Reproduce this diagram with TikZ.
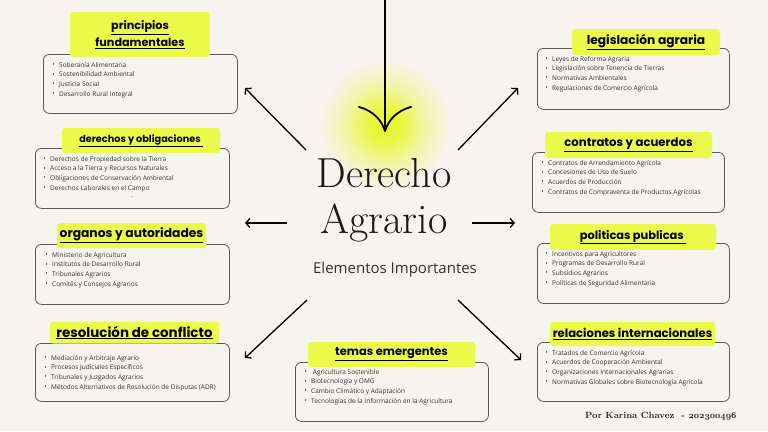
\documentclass[tikz,border=0pt]{standalone}
\usepackage{fontspec}
\newfontfamily\headfont{Poppins}
\newfontfamily\itemfont{Open Sans}
\usetikzlibrary{arrows.meta, positioning}
\definecolor{bgcol}{HTML}{F7F3EE}
\definecolor{hilite}{HTML}{ECFA4C}
\definecolor{glowcol}{HTML}{E9F73A}
\definecolor{boxline}{HTML}{5A5A5A}
\definecolor{itemtext}{HTML}{333333}
\pgfdeclareradialshading{glow}{\pgfpoint{0bp}{0bp}}{color(0bp)=(glowcol); color(3bp)=(glowcol); color(7.5bp)=(glowcol!40!bgcol); color(12.5bp)=(bgcol); color(25bp)=(bgcol)}
\newcommand{\itm}{\makebox[6.5pt][l]{\raisebox{0.2ex}{\scalebox{0.85}{\color{black}\textbullet}}}}
\newcommand{\osf}[1]{{\fontencoding{OML}\fontfamily{cmm}\fontseries{b}\fontshape{it}\selectfont #1}}

\begin{document}
\begin{tikzpicture}[x=1pt, y=-1pt,
        listbox/.style={draw=boxline, line width=0.8pt, rounded corners=6pt, anchor=north west, inner sep=0pt},
        tagbox/.style={fill=hilite, rounded corners=3pt, align=center, inner sep=0pt},
        itemlist/.style={anchor=north west, align=left, inner sep=0pt, text=itemtext, font=\itemfont\fontsize{6.5}{9.7}\selectfont},
        spoke/.style={-{Straight Barb[length=4pt, width=9pt]}, line width=1.3pt}]
        \useasboundingbox (0,0) rectangle (768,431);
        \fill[bgcol] (0,0) rectangle (768,431);
        \shade[shading=glow] (385,125) circle[radius=130pt];

        \coordinate (topS) at (385,-3);
        \coordinate (topE) at (385,132);
        \coordinate (ulS) at (306,150);
        \coordinate (ulE) at (245,88);
        \coordinate (urS) at (458,150);
        \coordinate (urE) at (518,88);
        \coordinate (lS) at (287,223);
        \coordinate (lE) at (245,223);
        \coordinate (rS) at (472,223);
        \coordinate (rE) at (515,223);
        \coordinate (dlS) at (307,300);
        \coordinate (dlE) at (245,358);
        \coordinate (drS) at (458,300);
        \coordinate (drE) at (521,360);

        \draw[line width=1.8pt, -{Computer Modern Rightarrow[length=26pt, width=54pt]}] (topS) -- (topE);
        \draw[spoke] (ulS) -- (ulE);
        \draw[spoke] (urS) -- (urE);
        \draw[spoke] (lS) -- (lE);
        \draw[spoke] (rS) -- (rE);
        \draw[spoke] (dlS) -- (dlE);
        \draw[spoke] (drS) -- (drE);

        \node[font=\fontsize{42}{46}\selectfont, text=black!90, anchor=base] (titleTop) at (384,187) {Derecho};
        \node[font=\fontsize{42}{46}\selectfont, text=black!90, anchor=base] (titleBottom) at (384,233) {Agrario};
        \node[font=\itemfont\fontsize{15}{18}\selectfont, text=black!80] (subtitle) at (395,270) {Elementos Importantes};

        \node[listbox, minimum width=194pt, minimum height=59pt] (princBox) at (43,54) {};
        \node[tagbox, minimum width=140pt, minimum height=45pt, font=\headfont\bfseries\fontsize{11.2}{17}\selectfont] (princTag) at (140,34.5) {\underline{principios}\\\underline{fundamentales}};
        \node[itemlist] (princList) at ([xshift=9.5pt, yshift=-8pt]princBox.north west) {\itm Soberanía Alimentaria\\\itm Sostenibilidad Ambiental\\\itm Justicia Social\\\itm Desarrollo Rural Integral};

        \node[listbox, minimum width=194pt, minimum height=60pt] (obligBox) at (35,148) {};
        \node[tagbox, minimum width=158pt, minimum height=25pt, font=\headfont\bfseries\fontsize{9.7}{12}\selectfont] (obligTag) at (141,140.5) {\underline{derechos y obligaciones\ }};
        \node[itemlist] (obligList) at ([xshift=8.5pt, yshift=-8pt]obligBox.north west) {\itm Derechos de Propiedad sobre la Tierra\\\itm Acceso a la Tierra y Recursos Naturales\\\itm Obligaciones de Conservación Ambiental\\\itm Derechos Laborales en el Campo};
        \node[itemlist, anchor=center] (obligDot) at (132,197) {.};

        \node[listbox, minimum width=194pt, minimum height=60pt] (organBox) at (35,244) {};
        \node[tagbox, minimum width=149pt, minimum height=25pt, font=\headfont\bfseries\fontsize{12.3}{14}\selectfont] (organTag) at (131.5,235.5) {\underline{organos y autoridades}};
        \node[itemlist] (organList) at ([xshift=10.5pt, yshift=-8pt]organBox.north west) {\itm Ministerio de Agricultura\\\itm Institutos de Desarrollo Rural\\\itm Tribunales Agrarios\\\itm Comités y Consejos Agrarios};

        \node[listbox, minimum width=194pt, minimum height=58pt] (conflBox) at (35,343) {};
        \node[tagbox, minimum width=169pt, minimum height=22pt, font=\headfont\bfseries\fontsize{13.4}{14}\selectfont] (conflTag) at (134.5,332.5) {\underline{resolución de conflicto}};
        \node[itemlist] (conflList) at ([xshift=9.5pt, yshift=-12pt]conflBox.north west) {\itm Mediación y Arbitraje Agrario\\\itm Procesos Judiciales Específicos\\\itm Tribunales y Juzgados Agrarios\\\itm Métodos Alternativos de Resolución de Disputas (ADR)};

        \node[listbox, minimum width=192pt, minimum height=61pt] (legisBox) at (537,48) {};
        \node[tagbox, minimum width=148pt, minimum height=26pt, font=\headfont\bfseries\fontsize{12.2}{14}\selectfont] (legisTag) at (646,42) {\underline{legislación agraria}};
        \node[itemlist] (legisList) at ([xshift=8.5pt, yshift=-8pt]legisBox.north west) {\itm Leyes de Reforma Agraria\\\itm Legislación sobre Tenencia de Tierras\\\itm Normativas Ambientales\\\itm Regulaciones de Comercio Agrícola};

        \node[listbox, minimum width=192pt, minimum height=60pt] (contrBox) at (532,152) {};
        \node[tagbox, minimum width=167pt, minimum height=26pt, font=\headfont\bfseries\fontsize{11.7}{12}\selectfont] (contrTag) at (628.5,145) {\underline{contratos y acuerdos}};
        \node[itemlist] (contrList) at ([xshift=9.5pt, yshift=-8pt]contrBox.north west) {\itm Contratos de Arrendamiento Agrícola\\\itm Concesiones de Uso de Suelo\\\itm Acuerdos de Producción\\\itm Contratos de Compraventa de Productos Agrícolas};

        \node[listbox, minimum width=192pt, minimum height=60pt] (poliBox) at (537,243) {};
        \node[tagbox, minimum width=166pt, minimum height=26pt, font=\headfont\bfseries\fontsize{11.4}{12}\selectfont] (poliTag) at (633,237) {\underline{politicas publicas\ }};
        \node[itemlist] (poliList) at ([xshift=8.5pt, yshift=-8pt]poliBox.north west) {\itm Incentivos para Agricultores\\\itm Programas de Desarrollo Rural\\\itm Subsidios Agrarios\\\itm Políticas de Seguridad Alimentaria};

        \node[listbox, minimum width=192pt, minimum height=59pt] (relBox) at (537,342) {};
        \node[tagbox, minimum width=165pt, minimum height=24pt, font=\headfont\bfseries\fontsize{11.6}{12}\selectfont] (relTag) at (632.5,334) {\underline{relaciones internacionales}};
        \node[itemlist] (relList) at ([xshift=8.5pt, yshift=-8pt]relBox.north west) {\itm Tratados de Comercio Agrícola\\\itm Acuerdos de Cooperación Ambiental\\\itm Organizaciones Internacionales Agrarias\\\itm Normativas Globales sobre Biotecnología Agrícola};

        \node[listbox, minimum width=193pt, minimum height=59pt] (temasBox) at (295,362) {};
        \node[tagbox, minimum width=167pt, minimum height=25pt, font=\headfont\bfseries\fontsize{11.5}{12}\selectfont] (temasTag) at (391.5,354.5) {\underline{temas emergentes}};
        \node[itemlist] (temasList) at ([xshift=9.5pt, yshift=-7pt]temasBox.north west) {\itm\ Agricultura Sostenible\\\itm Biotecnología y OMG\\\itm Cambio Climático y Adaptación\\\itm Tecnologías de la Información en la Agricultura};

        \node[font=\bfseries\fontsize{9}{11}\selectfont, text=black!85, anchor=east] (credit) at (740,416) {Por Karina Chavez \ - \osf{202300496}};
    \end{tikzpicture}
\end{document}
